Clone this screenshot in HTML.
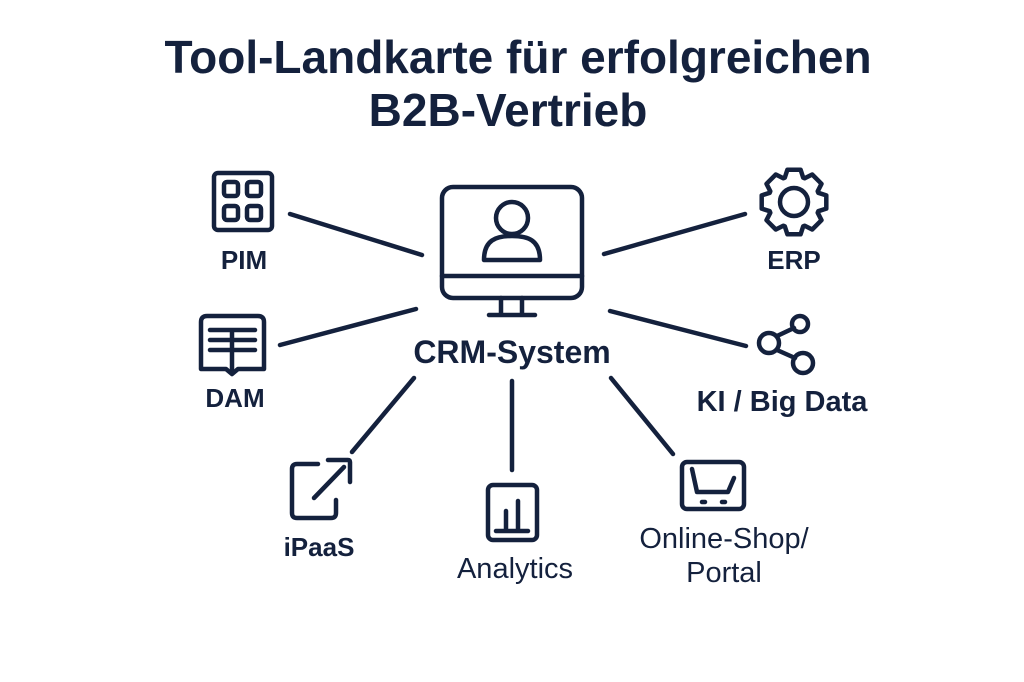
<!DOCTYPE html>
<html><head><meta charset="utf-8"><style>
body{margin:0;background:#fff;}
svg{display:block}
text{font-family:"Liberation Sans","DejaVu Sans",sans-serif;fill:#14213d}
</style></head><body>
<svg width="1024" height="682" viewBox="0 0 1024 682" xmlns="http://www.w3.org/2000/svg">
<rect width="1024" height="682" fill="#fff"/>
<g fill="none" stroke="#14213d" stroke-width="4.5" stroke-linecap="round" stroke-linejoin="round">
<text x="518" y="73" text-anchor="middle" font-size="46" font-weight="bold" stroke="none">Tool-Landkarte für erfolgreichen</text>
<text x="508" y="126" text-anchor="middle" font-size="46" font-weight="bold" stroke="none">B2B-Vertrieb</text>
<!-- connectors -->
<line x1="290" y1="214" x2="422" y2="255"/>
<line x1="280" y1="345" x2="416" y2="309"/>
<line x1="604" y1="254" x2="745" y2="214"/>
<line x1="610" y1="311" x2="746" y2="346"/>
<line x1="414" y1="378" x2="352" y2="452"/>
<line x1="512" y1="381" x2="512" y2="470"/>
<line x1="611" y1="378" x2="673" y2="454"/>
<!-- monitor -->
<rect x="442" y="187" width="140" height="111" rx="11"/>
<line x1="442" y1="276" x2="582" y2="276"/>
<path d="M501 298 V313 M522 298 V313 M489 315 H535"/>
<circle cx="512" cy="218" r="16"/>
<path d="M484 260 C484 240 496 236 512 236 C528 236 540 240 540 260 Z"/>
<text x="512" y="363" text-anchor="middle" font-size="32" font-weight="bold" stroke="none">CRM-System</text>
<!-- PIM -->
<rect x="214" y="173" width="58" height="57" rx="4"/>
<rect x="224" y="182" width="14" height="14" rx="3"/><rect x="247" y="182" width="14" height="14" rx="3"/>
<rect x="224" y="206" width="14" height="14" rx="3"/><rect x="247" y="206" width="14" height="14" rx="3"/>
<text x="244" y="269" text-anchor="middle" font-size="26" font-weight="bold" stroke="none">PIM</text>
<!-- DAM -->
<path d="M201 322 Q201 316 207 316 L232 316 L258 316 Q264 316 264 322 L264 369 L238 369 L232 374 L226 369 L201 369 Z"/>
<path d="M210 330 H255 M210 340 H255 M210 350 H255 M232 330 V369"/>
<text x="235" y="407" text-anchor="middle" font-size="26" font-weight="bold" stroke="none">DAM</text>
<!-- ERP gear -->
<path id="gear" transform="translate(794 202)"/>
<circle cx="794" cy="202" r="14"/>
<text x="794" y="269" text-anchor="middle" font-size="26" font-weight="bold" stroke="none">ERP</text>
<!-- KI share -->
<circle cx="800" cy="324" r="8"/>
<circle cx="769" cy="343" r="10"/>
<circle cx="803" cy="363" r="10"/>
<line x1="777" y1="336" x2="794" y2="328"/>
<line x1="777" y1="350" x2="795" y2="358"/>
<text x="782" y="411" text-anchor="middle" font-size="29" font-weight="bold" stroke="none">KI / Big Data</text>
<!-- iPaaS -->
<path d="M318 464 H297 Q292 464 292 469 V513 Q292 518 297 518 H331 Q336 518 336 513 V500"/>
<path d="M328 460 H348 Q350 460 350 462 V482"/>
<line x1="314" y1="498" x2="344" y2="467"/>
<text x="319" y="556" text-anchor="middle" font-size="26" font-weight="bold" stroke="none">iPaaS</text>
<!-- Analytics -->
<rect x="488" y="485" width="49" height="55" rx="5"/>
<path d="M496 531 H528 M506 531 V511 M518 531 V501"/>
<text x="515" y="578" text-anchor="middle" font-size="29" stroke="none">Analytics</text>
<!-- Shop -->
<rect x="682" y="462" width="62" height="47" rx="5"/>
<path d="M692 469 L697 492 H728 L734 478"/>
<path d="M702 502 H705 M722 502 H725"/>
<text x="724" y="548" text-anchor="middle" font-size="29" stroke="none">Online-Shop/</text>
<text x="724" y="582" text-anchor="middle" font-size="29" stroke="none">Portal</text>
</g>
</svg>
<script>
(function(){var d="",n=8,ro=33,ri=26;for(var i=0;i<n;i++){var a=i*2*Math.PI/n;var pts=[[ri,a-0.36],[ro,a-0.2],[ro,a+0.2],[ri,a+0.36]];pts.forEach(function(p,j){var x=(p[0]*Math.cos(p[1])).toFixed(1),y=(p[0]*Math.sin(p[1])).toFixed(1);d+=(i==0&&j==0?"M":"L")+x+" "+y+" ";});}
document.getElementById("gear").setAttribute("d",d+"Z");})();
</script>
</body></html>
